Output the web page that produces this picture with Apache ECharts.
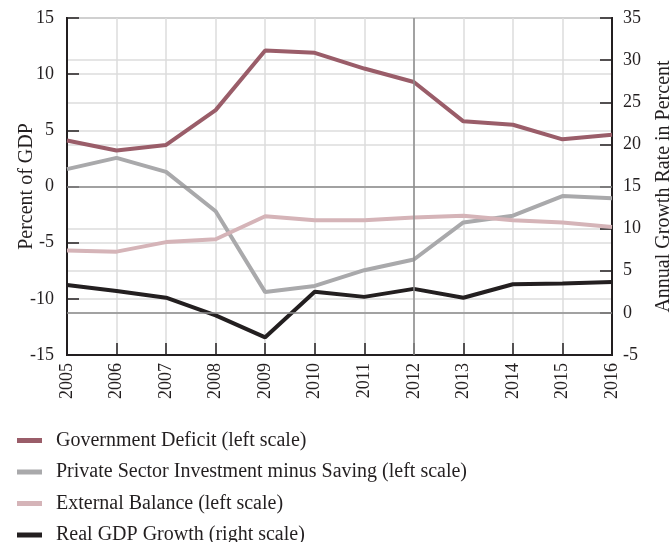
<!DOCTYPE html>
<html>
<head>
<meta charset="utf-8">
<script src="https://cdn.jsdelivr.net/npm/echarts@6/dist/echarts.min.js"></script>
<style>
  html, body { margin: 0; padding: 0; background: #fff; }
  #chart { width: 672px; height: 542px; }
</style>
</head>
<body>
<div id="chart"></div>
<script>
// 数据
var years = ['2005', '2006', '2007', '2008', '2009', '2010', '2011', '2012', '2013', '2014', '2015', '2016'];
var govDeficit = [4.1, 3.2, 3.7, 6.8, 12.1, 11.9, 10.5, 9.3, 5.8, 5.5, 4.2, 4.6];
var privateInvMinusSaving = [1.55, 2.55, 1.3, -2.2, -9.4, -8.85, -7.45, -6.5, -3.2, -2.6, -0.85, -1.05];
var externalBalance = [-5.7, -5.8, -4.95, -4.7, -2.65, -3.0, -3.0, -2.75, -2.6, -3.0, -3.2, -3.6];
var realGdpGrowth = [3.3, 2.6, 1.8, -0.3, -2.9, 2.5, 1.9, 2.85, 1.8, 3.4, 3.5, 3.65];

var font = '"Liberation Serif", "DejaVu Serif", serif';
var ink = '#231f20';
var gridColor = '#dcdcdc';

var myChart = echarts.init(document.getElementById('chart'));
myChart.setOption({
    animation: false,
    textStyle: { fontFamily: font, color: ink },
    grid: {
        left: 67, right: 60, top: 18, bottom: 187,
        containLabel: false,
        outerBoundsMode: 'none',
        show: true, borderColor: ink, borderWidth: 2, backgroundColor: 'transparent'
    },
    legend: {
        orient: 'vertical',
        left: 12,
        top: 425,
        height: 120,
        itemWidth: 25,
        itemHeight: 5,
        itemGap: 10.5,
        icon: 'rect',
        textStyle: { fontFamily: font, fontSize: 20, color: ink, lineHeight: 21, padding: [0, 0, 0, 9] },
        data: ['Government Deficit (left scale)', 'Private Sector Investment minus Saving (left scale)',
            'External Balance (left scale)', 'Real GDP Growth (right scale)']
    },
    xAxis: {
        type: 'category',
        data: years,
        boundaryGap: false,
        axisLine: { onZero: false, lineStyle: { color: ink, width: 2 } },
        axisTick: { inside: true, length: 12, lineStyle: { color: ink, width: 1.5 } },
        axisLabel: { rotate: 90, margin: 8, fontSize: 18, color: ink, fontFamily: font },
        splitLine: { show: true, lineStyle: { color: gridColor, width: 1.5 } }
    },
    yAxis: [{
        type: 'value',
        min: -15, max: 15, interval: 5,
        name: 'Percent of GDP',
        nameLocation: 'middle',
        nameGap: 30,
        nameRotate: 90,
        nameMoveOverlap: false,
        nameTextStyle: { fontSize: 20, color: ink, fontFamily: font },
        axisLine: { show: true, lineStyle: { color: ink, width: 2 } },
        axisTick: { show: true, inside: true, length: 12, lineStyle: { color: ink, width: 1.5 } },
        axisLabel: { margin: 13, fontSize: 18, color: ink, fontFamily: font },
        splitLine: { show: true, lineStyle: { color: gridColor, width: 1.5 } }
    }, {
        type: 'value',
        min: -5, max: 35, interval: 5,
        position: 'right',
        name: 'Annual Growth Rate in Percent',
        nameLocation: 'middle',
        nameGap: 42,
        nameRotate: 90,
        nameMoveOverlap: false,
        nameTextStyle: { fontSize: 20, color: ink, fontFamily: font },
        axisLine: { show: true, lineStyle: { color: ink, width: 2 } },
        axisTick: { show: true, inside: true, length: 12, lineStyle: { color: ink, width: 1.5 } },
        axisLabel: { margin: 11, fontSize: 18, color: ink, fontFamily: font },
        splitLine: { show: true, lineStyle: { color: gridColor, width: 1.5 } }
    }],
    series: [{
        name: 'Government Deficit (left scale)',
        type: 'line',
        yAxisIndex: 0,
        data: govDeficit,
        symbol: 'none',
        color: '#9a5d69',
        lineStyle: { width: 4 },
        markLine: {
            silent: true, symbol: 'none', label: { show: false },
            lineStyle: { color: '#8c8c8c', width: 1.5, type: 'solid' },
            data: [{ yAxis: 0 }, { xAxis: '2012' }]
        }
    }, {
        name: 'Private Sector Investment minus Saving (left scale)',
        type: 'line',
        yAxisIndex: 0,
        data: privateInvMinusSaving,
        symbol: 'none',
        color: '#a9a9ab',
        lineStyle: { width: 4 }
    }, {
        name: 'External Balance (left scale)',
        type: 'line',
        yAxisIndex: 0,
        data: externalBalance,
        symbol: 'none',
        color: '#d5b4b8',
        lineStyle: { width: 4 }
    }, {
        name: 'Real GDP Growth (right scale)',
        type: 'line',
        yAxisIndex: 1,
        data: realGdpGrowth,
        symbol: 'none',
        color: ink,
        lineStyle: { width: 4 },
        markLine: {
            silent: true, symbol: 'none', label: { show: false },
            lineStyle: { color: '#8c8c8c', width: 1.5, type: 'solid' },
            data: [{ yAxis: 0 }]
        }
    }]
});
</script>
</body>
</html>
